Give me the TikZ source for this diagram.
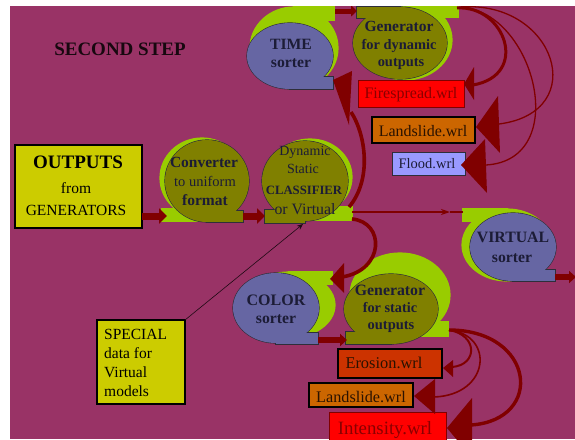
\documentclass[tikz,border=0pt]{standalone}
\usepackage{fontspec}
\setmainfont{Liberation Serif}
\usetikzlibrary{arrows.meta}

\definecolor{bgPlum}{HTML}{993366}
\definecolor{boxYellow}{HTML}{CCCC00}
\definecolor{shOlive}{HTML}{808000}
\definecolor{shLime}{HTML}{99CC00}
\definecolor{shBlue}{HTML}{6666A3}
\definecolor{shEdge}{HTML}{2E2E3A}
\definecolor{arrowRed}{HTML}{800000}
\definecolor{boxRed}{HTML}{FF0000}
\definecolor{boxErosion}{HTML}{CC3300}
\definecolor{boxOrange}{HTML}{CC6600}
\definecolor{boxFlood}{HTML}{9999FF}
\definecolor{inkDark}{HTML}{1C1C36}
\definecolor{inkRed}{HTML}{8A0000}
\definecolor{inkBrown}{HTML}{2A1200}

% tape shape: ellipse (centre, radii) joined with a rectangular tail
\newcommand\tshape[9]{%
  \path[#1, fill=none, line width=1.2pt] (#2,#3) ellipse [x radius=#4, y radius=#5];
  \path[#1, fill=none, line width=1.2pt] (#6,#7) rectangle (#8,#9);
  \path[#1, draw=none] (#2,#3) ellipse [x radius=#4, y radius=#5];
  \path[#1, draw=none] (#6,#7) rectangle (#8,#9);
}

\tikzset{
  limeshape/.style={fill=shLime, draw=shLime},
  oliveshape/.style={fill=shOlive, draw=shEdge},
  blueshape/.style={fill=shBlue, draw=shEdge},
  blockarrow/.style={draw=arrowRed, line width=7pt, -{Triangle[length=8pt,width=15pt]}},
  thickcurve/.style={draw=arrowRed, line width=3.6pt},
  thincurve/.style={draw=arrowRed, line width=1.3pt},
  headtri/.style={fill=arrowRed},
  lbl/.style={inner sep=0pt, anchor=base, text=inkDark},
  sz/.style={font=\fontsize{#1}{#1}\selectfont},
  bsz/.style={font=\bfseries\fontsize{#1}{#1}\selectfont},
  filebox/.style={anchor=north west, inner sep=0pt, outer sep=0pt},
}

\begin{document}
\begin{tikzpicture}[x=1pt,y=-1pt]
\useasboundingbox (0,0) rectangle (575,439);
\fill[white] (0,0) rectangle (575,439);
\fill[bgPlum] (10,6) rectangle (575,439);

\begin{scope}
\clip (10,6) rectangle (575,439);

% ---- title
\node[lbl, bsz=19, text=black!85!bgPlum] (title) at (120,55) {SECOND STEP};

% ---- input box
\node[filebox, draw=black, line width=2pt, fill=boxYellow,
      minimum width=127pt, minimum height=83pt] (outbox) at (15,145) {};
\node[lbl, bsz=19, text=black] (outT1) at (78,168) {OUTPUTS};
\node[lbl, sz=15.5, text=black] (outT2) at (76,193) {from};
\node[lbl, sz=15.5, text=black] (outT3) at (76,215) {GENERATORS};

% ---- special data box
\node[filebox, draw=black, line width=2pt, fill=boxYellow,
      minimum width=88pt, minimum height=84pt] (specbox) at (97,320) {};
\node[lbl, anchor=base west, sz=15.5, text=black] (specT1) at (104,339) {SPECIAL};
\node[lbl, anchor=base west, sz=15.5, text=black] (specT2) at (104,358) {data for};
\node[lbl, anchor=base west, sz=15.5, text=black] (specT3) at (104,377) {Virtual};
\node[lbl, anchor=base west, sz=15.5, text=black] (specT4) at (104,396) {models};

% ---- converter
\tshape{limeshape}{202}{178}{42}{40}{162}{209}{202}{221}
\tshape{oliveshape}{207}{181}{42}{41}{207}{211}{243}{222}
\node[lbl, bsz=15.5] (convT1) at (204,167) {Converter};
\node[lbl, sz=14.5] (convT2) at (205,186) {to uniform};
\node[lbl, bsz=15.5] (convT3) at (205,205) {format};

% ---- classifier
\tshape{limeshape}{310}{177}{42}{38}{310}{207}{352}{220}
\tshape{oliveshape}{305}{181}{43}{40}{265}{210}{305}{223}
\node[lbl, sz=14] (clsT1) at (305,155) {Dynamic};
\node[lbl, sz=14] (clsT2) at (303,173) {Static};
\node[lbl, bsz=12.7] (clsT3) at (304,194) {CLASSIFIER};
\node[lbl, sz=15.8] (clsT4) at (305,214) {or Virtual};

% ---- time sorter
\tshape{limeshape}{294}{48}{44}{41}{294}{6}{334}{20}
\tshape{blueshape}{290}{56}{43}{33}{290}{77}{333}{89}
\node[lbl, bsz=15.7] (timeT1) at (291,49) {TIME};
\node[lbl, bsz=15.7] (timeT2) at (291,67) {sorter};

% ---- generator for dynamic outputs
\tshape{limeshape}{405}{40}{47}{40}{405}{6}{458}{17}
\tshape{oliveshape}{400}{43}{47}{36}{357}{7}{400}{18}
\node[lbl, bsz=15.5] (gdT1) at (399,31) {Generator};
\node[lbl, bsz=14.4] (gdT2) at (399,49) {for dynamic};
\node[lbl, bsz=14.4] (gdT3) at (401,66) {outputs};

% ---- virtual sorter
\tshape{limeshape}{507}{245}{45}{36}{463}{209}{507}{221}
\tshape{blueshape}{513}{247}{43}{34}{513}{270}{555}{281}
\node[lbl, bsz=15.8] (virT1) at (513,242) {VIRTUAL};
\node[lbl, bsz=15.7] (virT2) at (512,262) {sorter};

% ---- color sorter
\tshape{limeshape}{289}{305}{46}{33}{289}{272}{332}{284}
\tshape{blueshape}{276}{308}{43}{35}{276}{333}{318}{344}
\node[lbl, bsz=16] (colT1) at (276,305) {COLOR};
\node[lbl, bsz=15.7] (colT2) at (276,323) {sorter};

% ---- generator for static outputs
\tshape{limeshape}{400}{295}{50}{42}{400}{322}{448}{336}
\tshape{oliveshape}{391}{309}{47}{35}{346}{332}{391}{344}
\node[lbl, bsz=15.8] (gsT1) at (390,295) {Generator};
\node[lbl, bsz=14.3] (gsT2) at (390,312) {for static};
\node[lbl, bsz=14.5] (gsT3) at (391,329) {outputs};

% ---- result files (dynamic)
\node[filebox, draw=arrowRed, line width=0.8pt, fill=boxRed,
      minimum width=106pt, minimum height=27pt] (fire) at (358,80) {};
\node[lbl, sz=16, text=inkRed] (fireT) at (411,98) {Firespread.wrl};
\node[filebox, draw=black, line width=2.4pt, fill=boxOrange,
      minimum width=103pt, minimum height=26pt] (landA) at (372,117) {};
\node[lbl, sz=16, text=inkBrown] (landAT) at (423,136) {Landslide.wrl};
\node[filebox, draw=shEdge, line width=0.8pt, fill=boxFlood,
      minimum width=73pt, minimum height=23pt] (flood) at (392,152) {};
\node[lbl, sz=14.5] (floodT) at (427,168) {Flood.wrl};

% ---- result files (static)
\node[filebox, draw=black, line width=2.4pt, fill=boxErosion,
      minimum width=104pt, minimum height=29pt] (eros) at (338,349) {};
\node[lbl, sz=16.4, text=inkBrown] (erosT) at (384,368) {Erosion.wrl};
\node[filebox, draw=black, line width=2.4pt, fill=boxOrange,
      minimum width=104pt, minimum height=24pt] (landB) at (309,383) {};
\node[lbl, sz=16.2, text=inkBrown] (landBT) at (361,402) {Landslide.wrl};
\node[filebox, draw=arrowRed, line width=0.8pt, fill=boxRed,
      minimum width=117pt, minimum height=34pt] (inten) at (329,412) {};
\node[lbl, sz=18.8, text=inkRed] (intenT) at (385,434) {Intensity.wrl};

% ---- connector end points
\coordinate (aOutS) at (142,216);  \coordinate (aOutE) at (167,216);
\coordinate (aConS) at (243,216);  \coordinate (aConE) at (265,216);
\coordinate (aTimS) at (335,11);   \coordinate (aTimE) at (357,11);
\coordinate (aColS) at (318,340);  \coordinate (aColE) at (347,340);
\coordinate (aVirS) at (555,277);  \coordinate (aVirE) at (576,277);
\coordinate (clsOut) at (352,212); \coordinate (virMid) at (450,212);
\coordinate (virIn) at (463,212);
\coordinate (clsUp) at (349,207);  \coordinate (timeHead) at (351,112);
\coordinate (clsDn) at (352,219);  \coordinate (colHead) at (342,277);
\coordinate (gdOut) at (457,8);    \coordinate (gdOutB) at (461,7);
\coordinate (fireHead) at (473,85);
\coordinate (landAHead) at (499,124);
\coordinate (floodHead) at (486,165);
\coordinate (gsOut) at (449,330);
\coordinate (erosHead) at (452,367);
\coordinate (landBHead) at (434,397);
\coordinate (intenHead) at (471,425);
\coordinate (specIn) at (303,224);

% ---- straight block arrows
\draw[blockarrow] (aOutS) -- (aOutE);
\draw[blockarrow] (aConS) -- (aConE);
\draw[blockarrow, line width=5pt, -{Triangle[length=6pt,width=11pt]}] (aTimS) -- (aTimE);
\draw[blockarrow, line width=6pt, -{Triangle[length=7pt,width=12pt]}] (aColS) -- (aColE);
\draw[blockarrow, line width=6pt, -{Triangle[length=7pt,width=12pt]}] (aVirS) -- (aVirE);

% ---- classifier to virtual sorter
\draw[draw=arrowRed, line width=1.8pt, -{Stealth[length=9pt,width=6pt]}] (clsOut) -- (virMid);
\draw[draw=arrowRed, line width=1.8pt] (virMid) -- (virIn);

% ---- classifier to time sorter and to color sorter
\draw[thickcurve] (clsUp) .. controls (372,180) and (366,135) .. (timeHead);
\fill[headtri] (333,80) -- (352,71) -- (349,125) -- cycle;
\draw[thickcurve] (clsDn) .. controls (385,222) and (385,270) .. (colHead);
\fill[headtri] (330,279) -- (344,263) -- (344,293) -- cycle;

% ---- dynamic generator to its files
\draw[thickcurve, line width=3pt] (gdOut) .. controls (505,5) and (530,75) .. (fireHead);
\fill[headtri] (464,84) -- (474,67) -- (474,100) -- cycle;
\draw[thincurve] (gdOutB) .. controls (555,0) and (592,112) .. (landAHead);
\fill[headtri] (476,127) -- (498,96) -- (500,153) -- cycle;
\draw[thincurve] (gdOutB) .. controls (535,12) and (572,160) .. (floodHead);
\fill[headtri] (461,165) -- (485,139) -- (487,193) -- cycle;

% ---- static generator to its files
\draw[draw=arrowRed, line width=2pt] (gsOut) .. controls (478,335) and (478,365) .. (erosHead);
\fill[headtri] (443,368) -- (453,360) -- (453,377) -- cycle;
\draw[thincurve, line width=1.6pt] (gsOut) .. controls (495,335) and (490,395) .. (landBHead);
\fill[headtri] (414,396) -- (435,379) -- (435,414) -- cycle;
\draw[thickcurve, line width=3.4pt] (gsOut) .. controls (535,330) and (545,420) .. (intenHead);
\fill[headtri] (447,428) -- (472,398) -- (472,458) -- cycle;

% ---- special data feed into the classifier
\draw[draw=black!80!bgPlum, line width=0.6pt, -{Stealth[length=6pt,width=5pt]}]
  (specbox.north east) -- (specIn);

\end{scope}
\end{tikzpicture}
\end{document}
